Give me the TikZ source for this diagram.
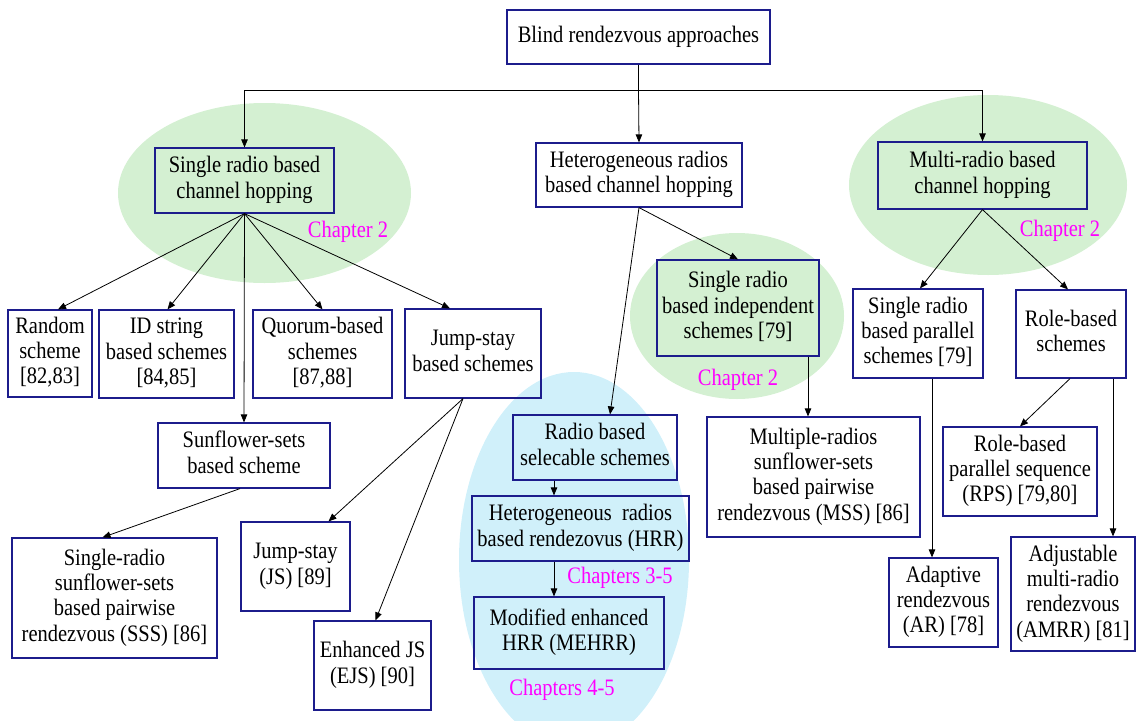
\documentclass[tikz,border=0pt]{standalone}
\usepackage{fontspec}
\setmainfont{Liberation Serif}
\newfontfamily\boxface{Liberation Serif}
\usetikzlibrary{arrows.meta,calc}
\definecolor{navyedge}{RGB}{28,28,140}
\definecolor{chapgreen}{RGB}{212,240,210}
\definecolor{chapblue}{RGB}{208,240,250}
\definecolor{chapmag}{RGB}{255,0,255}
% text of a box: centred lines, drawn slightly tall
\newcommand{\bx}[1]{\scalebox{1}[1.15]{\begin{tabular}{@{}c@{}}#1\end{tabular}}}
\tikzset{
  box/.style={draw=navyedge, line width=1.2pt, align=center, inner sep=0pt,
    font=\boxface\fontsize{20.5}{22}\selectfont},
  arr/.style={-{Triangle[length=8pt,width=6.5pt]}, line width=0.8pt},
  chap/.style={text=chapmag, inner sep=0pt, font=\boxface\fontsize{20.5}{24}\selectfont},
}
\begin{document}
\begin{tikzpicture}[x=1pt,y=-1pt]
\useasboundingbox (0,0) rectangle (1137,720);

% shaded chapter groupings
\fill[chapgreen] (264.5,193) ellipse [x radius=146.5, y radius=90];
\fill[chapgreen] (988,185) ellipse [x radius=139, y radius=90];
\fill[chapgreen] (737,316) ellipse [x radius=107, y radius=83];
\fill[chapblue] (574,560) ellipse [x radius=115, y radius=188];

% boxes
\node[box, minimum width=263, minimum height=54] (top) at (638.5,37) {\bx{Blind rendezvous approaches}};
\node[box, minimum width=179, minimum height=65] (srb) at (244.5,180.5) {\bx{Single radio based\\channel hopping}};
\node[box, minimum width=206, minimum height=64] (het) at (639,175) {\bx{Heterogeneous radios\\based channel hopping}};
\node[box, minimum width=209, minimum height=67] (mrb) at (982.5,175.5) {\bx{Multi-radio based\\channel hopping}};

\node[box, minimum width=84, minimum height=87] (rand) at (50,353.5) {\bx{Random\\scheme\\{[82,83]}}};
\node[box, minimum width=135, minimum height=88] (idstr) at (166.5,354) {\bx{ID string\\based schemes\\{[84,85]}}};
\node[box, minimum width=139, minimum height=88] (quor) at (322.5,354) {\bx{Quorum-based\\schemes\\{[87,88]}}};
\node[box, minimum width=136, minimum height=89] (jsb) at (473,353.5) {\bx{Jump-stay\\based schemes}};
\node[box, minimum width=172, minimum height=65] (sunf) at (244,455.5) {\bx{Sunflower-sets\\based scheme}};
\node[box, minimum width=205, minimum height=120] (sss) at (114.5,598) {\bx{Single-radio\\sunflower-sets\\based pairwise\\rendezvous (SSS) [86]}};
\node[box, minimum width=109, minimum height=89] (js) at (295.5,566.5) {\bx{Jump-stay\\(JS) [89]}};
\node[box, minimum width=117, minimum height=89] (ejs) at (372.5,665.5) {\bx{Enhanced JS\\(EJS) [90]}};

\node[box, minimum width=162, minimum height=96] (indep) at (738,308) {\bx{Single radio\\based independent\\schemes [79]}};
\node[box, minimum width=164, minimum height=65] (sel) at (595,447.5) {\bx{Radio based\\selecable schemes}};
\node[box, minimum width=217, minimum height=65] (hrr) at (580.5,528.5) {\bx{Heterogeneous\ \ radios\\based rendezovus (HRR)}};
\node[box, minimum width=190, minimum height=72] (mehrr) at (569,633) {\bx{Modified enhanced\\HRR (MEHRR)}};
\node[box, minimum width=213, minimum height=120] (mss) at (813.5,477) {\bx{Multiple-radios\\sunflower-sets\\based pairwise\\rendezvous (MSS) [86]}};

\node[box, minimum width=130, minimum height=89] (par) at (918,333.5) {\bx{Single radio\\based parallel\\schemes [79]}};
\node[box, minimum width=110, minimum height=88] (role) at (1071,334) {\bx{Role-based\\schemes}};
\node[box, minimum width=154, minimum height=89] (rps) at (1020,471.5) {\bx{Role-based\\parallel sequence\\(RPS) [79,80]}};
\node[box, minimum width=109, minimum height=89] (ar) at (943.5,602.5) {\bx{Adaptive\\rendezvous\\(AR) [78]}};
\node[box, minimum width=124, minimum height=114] (amrr) at (1073,594) {\bx{Adjustable\\multi-radio\\rendezvous\\(AMRR) [81]}};

% chapter labels
\node[chap] (c1) at (348,232) {\bx{Chapter 2}};
\node[chap] (c2) at (1060,231) {\bx{Chapter 2}};
\node[chap] (c3) at (738,380) {\bx{Chapter 2}};
\node[chap] (c4) at (620,578) {\bx{Chapters 3-5}};
\node[chap] (c5) at (562,690) {\bx{Chapters 4-5}};

% top level split
\coordinate (hub) at (top.south |- 0,90);
\draw[line width=0.8pt] (top.south) -- (hub);
\draw[arr] (hub) -| (srb.north);
\draw[arr] (hub) -- (het.north);
\draw[arr] (hub) -| (mrb.north);

% single radio branch
\draw[arr] (srb.south) -- ($(rand.north)+(8,0)$);
\draw[arr] (srb.south) -- ($(idstr.north)+(1,0)$);
\draw[arr] (srb.south) -- (sunf.north);
\draw[arr] (srb.south) -- (quor.north);
\draw[arr] (srb.south) -- ($(jsb.north)+(-23,0)$);
\draw[arr] ($(sunf.south)+(-4,0)$) -- ($(sss.north)+(-12,0)$);
\draw[arr] ($(jsb.south)+(-10,0)$) -- ($(js.north)+(33,0)$);
\draw[arr] ($(jsb.south)+(-10,0)$) -- ($(ejs.north)+(3,0)$);

% heterogeneous branch
\draw[arr] (het.south) -- ($(sel.north)+(15,0)$);
\draw[arr] (het.south) -- (indep.north);
\coordinate (ia) at ($(indep.south)+(70,0)$);
\draw[arr] (ia) -- (ia |- mss.north);
\coordinate (sa) at (554,0);
\draw[arr] (sa |- sel.south) -- (sa |- hrr.north);
\draw[arr] (sa |- hrr.south) -- (sa |- mehrr.north);

% multi-radio branch
\draw[arr] (mrb.south) -- ($(par.north)+(2,0)$);
\draw[arr] (mrb.south) -- ($(role.north)+(-3,0)$);
\draw[arr] ($(role.south)+(-1,0)$) -- (rps.north);
\coordinate (pa) at (932,0);
\draw[arr] (pa |- par.south) -- (pa |- ar.north);
\coordinate (ra) at (1113,0);
\draw[arr] (ra |- role.south) -- (ra |- amrr.north);
\end{tikzpicture}
\end{document}
